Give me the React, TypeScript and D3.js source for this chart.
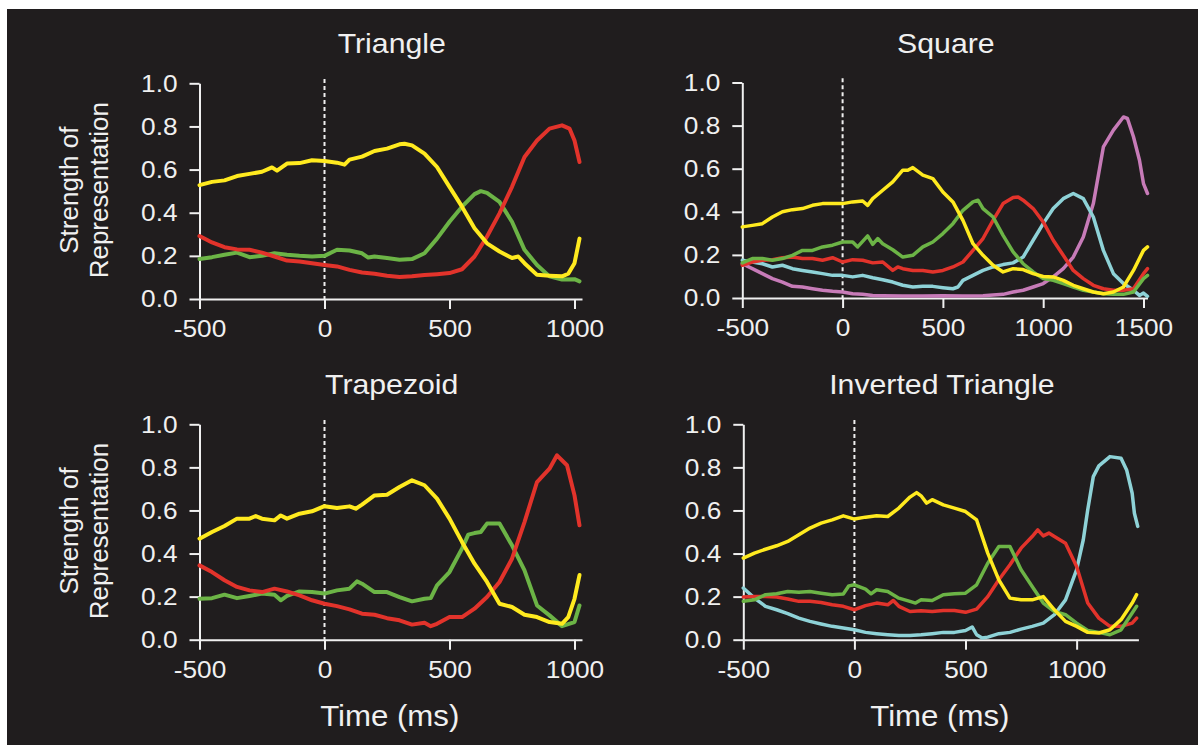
import React, { useEffect, useRef } from "react";
import * as d3 from "d3";

const width = 1198;
const height = 745;

const bg = "#201d1e";
const fg = "#f0f0f0";
const font = "'Liberation Sans', Arial, Helvetica, sans-serif";

const colors = {
  yellow: "#ffea1f",
  red: "#e2332b",
  green: "#6cb446",
  cyan: "#8ed2d7",
  purple: "#c77bb8",
};

const yTicks = [0, 0.2, 0.4, 0.6, 0.8, 1.0];
const xTicksShort = [-500, 0, 500, 1000];
const xTicksLong = [-500, 0, 500, 1000, 1500];
const titles = ["Triangle", "Square", "Trapezoid", "Inverted Triangle"];

// [time in ms, strength]
const triYellow = [
  [-500, 0.528], [-450, 0.543], [-400, 0.55], [-350, 0.57], [-300, 0.58], [-250, 0.59],
  [-210, 0.61], [-190, 0.595], [-150, 0.628], [-100, 0.63], [-50, 0.643], [0, 0.64],
  [50, 0.632], [80, 0.623], [100, 0.646], [150, 0.66], [200, 0.686], [250, 0.697],
  [300, 0.717], [320, 0.72], [350, 0.712], [400, 0.674], [450, 0.612], [500, 0.52],
  [550, 0.428], [600, 0.328], [650, 0.258], [700, 0.22], [750, 0.19], [775, 0.197],
  [800, 0.166], [850, 0.112], [900, 0.108], [950, 0.105], [975, 0.117], [1000, 0.166],
  [1020, 0.28],
];
const triRed = [
  [-500, 0.292], [-450, 0.262], [-400, 0.24], [-350, 0.23], [-300, 0.228], [-250, 0.215],
  [-200, 0.197], [-150, 0.178], [-100, 0.174], [-50, 0.166], [0, 0.158], [50, 0.151],
  [100, 0.135], [150, 0.123], [200, 0.117], [250, 0.108], [300, 0.102], [350, 0.105],
  [400, 0.111], [450, 0.115], [500, 0.12], [550, 0.138], [600, 0.197], [650, 0.29],
  [700, 0.397], [750, 0.52], [800, 0.658], [850, 0.735], [900, 0.79], [950, 0.805],
  [980, 0.79], [1000, 0.735], [1020, 0.635],
];
const triGreen = [
  [-500, 0.185], [-450, 0.194], [-400, 0.205], [-350, 0.215], [-300, 0.194], [-250, 0.2],
  [-200, 0.212], [-150, 0.205], [-100, 0.2], [-50, 0.197], [0, 0.2], [50, 0.228],
  [100, 0.225], [150, 0.212], [175, 0.192], [200, 0.197], [250, 0.19], [300, 0.182],
  [350, 0.185], [400, 0.212], [450, 0.28], [500, 0.358], [550, 0.428], [600, 0.486],
  [625, 0.5], [650, 0.492], [700, 0.45], [750, 0.358], [800, 0.228], [850, 0.158],
  [900, 0.105], [950, 0.09], [1000, 0.092], [1020, 0.082],
];

const sqYellow = [
  [-500, 0.33], [-450, 0.337], [-400, 0.345], [-350, 0.376], [-300, 0.4], [-250, 0.41],
  [-200, 0.415], [-150, 0.43], [-100, 0.438], [-50, 0.438], [0, 0.438], [50, 0.446],
  [100, 0.45], [125, 0.43], [150, 0.461], [200, 0.5], [250, 0.539], [300, 0.593],
  [325, 0.593], [350, 0.605], [400, 0.57], [450, 0.554], [500, 0.492], [550, 0.446],
  [600, 0.36], [650, 0.252], [700, 0.198], [750, 0.152], [800, 0.121], [850, 0.136],
  [900, 0.132], [950, 0.113], [1000, 0.1], [1050, 0.098], [1100, 0.082], [1150, 0.059],
  [1200, 0.043], [1250, 0.028], [1300, 0.02], [1350, 0.028], [1400, 0.051], [1450, 0.128],
  [1500, 0.221], [1520, 0.237],
];
const sqGreen = [
  [-500, 0.163], [-450, 0.183], [-400, 0.183], [-350, 0.175], [-300, 0.183], [-250, 0.198],
  [-200, 0.221], [-150, 0.221], [-100, 0.237], [-50, 0.245], [0, 0.26], [50, 0.26],
  [75, 0.237], [125, 0.288], [150, 0.249], [175, 0.276], [200, 0.252], [250, 0.224],
  [300, 0.19], [350, 0.198], [400, 0.237], [450, 0.26], [500, 0.299], [550, 0.345],
  [600, 0.407], [650, 0.446], [675, 0.454], [700, 0.415], [750, 0.376], [800, 0.291],
  [850, 0.214], [900, 0.159], [950, 0.121], [1000, 0.09], [1050, 0.082], [1100, 0.067],
  [1150, 0.051], [1200, 0.036], [1250, 0.028], [1300, 0.02], [1350, 0.017], [1400, 0.017],
  [1450, 0.028], [1500, 0.09], [1520, 0.105],
];
const sqRed = [
  [-500, 0.152], [-450, 0.167], [-400, 0.175], [-350, 0.178], [-300, 0.187], [-250, 0.19],
  [-200, 0.183], [-150, 0.183], [-100, 0.175], [-50, 0.187], [0, 0.167], [50, 0.178],
  [100, 0.175], [150, 0.163], [200, 0.167], [250, 0.128], [275, 0.144], [300, 0.136],
  [350, 0.128], [400, 0.128], [450, 0.121], [500, 0.128], [550, 0.144], [600, 0.167],
  [650, 0.221], [700, 0.276], [750, 0.36], [800, 0.438], [850, 0.466], [875, 0.469],
  [900, 0.454], [950, 0.415], [1000, 0.353], [1050, 0.268], [1100, 0.198], [1150, 0.128],
  [1200, 0.09], [1250, 0.059], [1300, 0.043], [1350, 0.036], [1400, 0.036], [1450, 0.043],
  [1500, 0.113], [1520, 0.136],
];
const sqCyan = [
  [-500, 0.175], [-450, 0.167], [-400, 0.159], [-350, 0.144], [-300, 0.152], [-250, 0.136],
  [-200, 0.128], [-150, 0.121], [-100, 0.113], [-50, 0.105], [0, 0.105], [50, 0.098],
  [100, 0.105], [150, 0.094], [200, 0.085], [250, 0.074], [300, 0.059], [350, 0.051],
  [400, 0.054], [450, 0.054], [500, 0.048], [550, 0.043], [575, 0.051], [600, 0.082],
  [650, 0.105], [700, 0.128], [750, 0.144], [800, 0.155], [850, 0.163], [900, 0.19],
  [950, 0.268], [1000, 0.345], [1050, 0.415], [1100, 0.461], [1150, 0.485], [1200, 0.461],
  [1250, 0.376], [1300, 0.221], [1350, 0.113], [1400, 0.067], [1450, 0.036], [1480, 0.012],
  [1500, 0.023], [1520, 0.008],
];
const sqPurple = [
  [-500, 0.159], [-450, 0.136], [-400, 0.113], [-350, 0.09], [-300, 0.074], [-250, 0.054],
  [-200, 0.051], [-150, 0.043], [-100, 0.036], [-50, 0.031], [0, 0.028], [50, 0.02],
  [100, 0.017], [150, 0.012], [200, 0.011], [300, 0.009], [400, 0.009], [500, 0.011],
  [600, 0.009], [700, 0.011], [800, 0.017], [850, 0.028], [900, 0.036], [950, 0.051],
  [1000, 0.067], [1050, 0.098], [1100, 0.136], [1150, 0.19], [1200, 0.283], [1250, 0.438],
  [1300, 0.701], [1350, 0.779], [1400, 0.84], [1420, 0.833], [1450, 0.748], [1480, 0.639],
  [1500, 0.531], [1520, 0.485],
];

const trapYellow = [
  [-500, 0.469], [-450, 0.5], [-400, 0.528], [-350, 0.562], [-300, 0.562], [-275, 0.574],
  [-250, 0.562], [-200, 0.554], [-175, 0.577], [-150, 0.562], [-100, 0.585], [-50, 0.596],
  [0, 0.62], [50, 0.611], [100, 0.619], [125, 0.608], [150, 0.627], [200, 0.67],
  [250, 0.673], [300, 0.709], [350, 0.74], [400, 0.717], [450, 0.655], [500, 0.562],
  [550, 0.454], [600, 0.353], [650, 0.268], [700, 0.167], [750, 0.152], [800, 0.116],
  [850, 0.105], [900, 0.082], [950, 0.074], [975, 0.105], [1000, 0.19], [1020, 0.3],
];
const trapRed = [
  [-500, 0.345], [-450, 0.314], [-400, 0.276], [-350, 0.245], [-300, 0.229], [-250, 0.221],
  [-200, 0.237], [-150, 0.224], [-100, 0.206], [-50, 0.183], [0, 0.167], [50, 0.156],
  [100, 0.141], [150, 0.121], [200, 0.116], [250, 0.1], [300, 0.09], [350, 0.07],
  [400, 0.079], [425, 0.063], [450, 0.074], [500, 0.105], [550, 0.105], [600, 0.144],
  [650, 0.198], [700, 0.268], [750, 0.376], [800, 0.546], [850, 0.732], [900, 0.794],
  [930, 0.856], [970, 0.81], [1000, 0.67], [1020, 0.531],
];
const trapGreen = [
  [-500, 0.19], [-450, 0.193], [-400, 0.209], [-350, 0.193], [-300, 0.203], [-250, 0.214],
  [-200, 0.209], [-175, 0.183], [-150, 0.203], [-100, 0.224], [-50, 0.221], [0, 0.214],
  [50, 0.229], [100, 0.237], [130, 0.271], [150, 0.26], [200, 0.221], [250, 0.221],
  [300, 0.198], [350, 0.178], [400, 0.19], [425, 0.193], [450, 0.252], [500, 0.314],
  [550, 0.423], [575, 0.488], [600, 0.495], [625, 0.5], [650, 0.539], [700, 0.539],
  [750, 0.438], [800, 0.322], [850, 0.159], [900, 0.113], [950, 0.063], [1000, 0.082],
  [1020, 0.159],
];

const invYellow = [
  [-500, 0.379], [-450, 0.402], [-400, 0.42], [-350, 0.436], [-300, 0.456], [-250, 0.487],
  [-200, 0.518], [-150, 0.541], [-100, 0.556], [-50, 0.575], [0, 0.56], [50, 0.569],
  [100, 0.575], [150, 0.572], [200, 0.611], [250, 0.662], [280, 0.683], [300, 0.668],
  [325, 0.634], [350, 0.65], [400, 0.626], [450, 0.611], [500, 0.595], [550, 0.556],
  [600, 0.402], [650, 0.278], [700, 0.193], [750, 0.185], [800, 0.185], [850, 0.2],
  [900, 0.139], [950, 0.085], [1000, 0.062], [1050, 0.034], [1100, 0.031], [1150, 0.046],
  [1200, 0.093], [1250, 0.17], [1270, 0.209],
];
const invRed = [
  [-500, 0.198], [-450, 0.2], [-400, 0.2], [-350, 0.198], [-300, 0.189], [-250, 0.178],
  [-200, 0.178], [-150, 0.173], [-100, 0.162], [-50, 0.155], [0, 0.139], [50, 0.158],
  [100, 0.17], [150, 0.162], [175, 0.182], [200, 0.155], [250, 0.131], [300, 0.134],
  [350, 0.131], [400, 0.136], [450, 0.136], [500, 0.127], [550, 0.142], [600, 0.2],
  [650, 0.278], [700, 0.348], [750, 0.425], [800, 0.479], [825, 0.51], [850, 0.482],
  [875, 0.495], [900, 0.479], [950, 0.448], [1000, 0.34], [1050, 0.17], [1100, 0.1],
  [1150, 0.062], [1200, 0.062], [1250, 0.077], [1270, 0.1],
];
const invGreen = [
  [-500, 0.178], [-450, 0.185], [-400, 0.209], [-350, 0.213], [-300, 0.224], [-250, 0.22],
  [-200, 0.224], [-150, 0.216], [-100, 0.209], [-50, 0.212], [-25, 0.25], [0, 0.255],
  [50, 0.235], [75, 0.213], [100, 0.232], [150, 0.224], [200, 0.193], [250, 0.178],
  [275, 0.17], [300, 0.185], [350, 0.182], [400, 0.209], [450, 0.213], [500, 0.216],
  [550, 0.255], [600, 0.355], [650, 0.433], [700, 0.433], [750, 0.325], [800, 0.247],
  [850, 0.17], [900, 0.131], [950, 0.116], [1000, 0.077], [1050, 0.043], [1100, 0.034],
  [1150, 0.023], [1200, 0.046], [1250, 0.124], [1270, 0.155],
];
const invCyan = [
  [-500, 0.24], [-450, 0.193], [-400, 0.155], [-350, 0.139], [-300, 0.121], [-250, 0.1],
  [-200, 0.085], [-150, 0.073], [-100, 0.062], [-50, 0.054], [0, 0.046], [50, 0.034],
  [100, 0.028], [150, 0.023], [200, 0.019], [250, 0.02], [300, 0.023], [350, 0.028],
  [400, 0.034], [450, 0.034], [500, 0.043], [530, 0.059], [550, 0.023], [575, 0.008],
  [600, 0.012], [650, 0.028], [700, 0.034], [750, 0.049], [800, 0.062], [850, 0.077],
  [900, 0.116], [950, 0.185], [1000, 0.325], [1030, 0.464], [1050, 0.603], [1075, 0.757],
  [1100, 0.807], [1150, 0.85], [1200, 0.842], [1225, 0.788], [1250, 0.68], [1260, 0.587],
  [1275, 0.526],
];

const panels = [
  {
    title: titles[0], xMax: 1030, ticks: xTicksShort,
    left: 199.5, right: 582, top: 83.3, bottom: 299, lw: 4, yLabel: true, xLabel: false,
    series: [[triGreen, colors.green], [triRed, colors.red], [triYellow, colors.yellow]],
  },
  {
    title: titles[1], xMax: 1520, ticks: xTicksLong,
    left: 742.3, right: 1147.5, top: 82.5, bottom: 298, lw: 3.5, yLabel: false, xLabel: false,
    series: [[sqPurple, colors.purple], [sqCyan, colors.cyan], [sqRed, colors.red], [sqGreen, colors.green], [sqYellow, colors.yellow]],
  },
  {
    title: titles[2], xMax: 1030, ticks: xTicksShort,
    left: 199.5, right: 582, top: 424.3, bottom: 639.7, lw: 4, yLabel: true, xLabel: true,
    series: [[trapGreen, colors.green], [trapRed, colors.red], [trapYellow, colors.yellow]],
  },
  {
    title: titles[3], xMax: 1278, ticks: xTicksShort,
    left: 743.3, right: 1138.4, top: 424.3, bottom: 639.7, lw: 3.5, yLabel: false, xLabel: true,
    series: [[invCyan, colors.cyan], [invRed, colors.red], [invGreen, colors.green], [invYellow, colors.yellow]],
  },
];

// the figure's lettering is a little wider than Liberation Sans
function widen(sel, k) {
  sel.each(function () {
    const len = this.getComputedTextLength();
    d3.select(this).attr("textLength", len * k).attr("lengthAdjust", "spacingAndGlyphs");
  });
}

function drawPanel(svg, p) {
  const x = d3.scaleLinear().domain([-500, p.xMax]).range([p.left, p.right]);
  const y = d3.scaleLinear().domain([0, 1]).range([p.bottom, p.top]);
  const g = svg.append("g");

  const yAxis = g
    .append("g")
    .attr("transform", `translate(${p.left},0)`)
    .call(
      d3.axisLeft(y).tickValues(yTicks).tickFormat(d3.format(".1f"))
        .tickSize(10).tickSizeOuter(0).tickPadding(12)
    );
  const xAxis = g
    .append("g")
    .attr("transform", `translate(0,${p.bottom})`)
    .call(
      d3.axisBottom(x).tickValues(p.ticks).tickFormat((d) => String(d))
        .tickSize(10).tickSizeOuter(0).tickPadding(11)
    );

  [yAxis, xAxis].forEach((a) => {
    a.attr("font-family", font).attr("font-size", 24.5);
    a.selectAll("path, line").attr("stroke", fg).attr("stroke-width", 2);
    a.selectAll("text").attr("fill", fg).call(widen, 1.07);
  });

  // stimulus onset
  g.append("line")
    .attr("x1", x(0)).attr("x2", x(0))
    .attr("y1", y(1.02)).attr("y2", y(0))
    .attr("stroke", fg).attr("stroke-width", 2)
    .attr("stroke-dasharray", "4 3");

  const line = d3.line().x((d) => x(d[0])).y((d) => y(d[1]));
  p.series.forEach(([data, color]) => {
    g.append("path")
      .attr("d", line(data))
      .attr("fill", "none")
      .attr("stroke", color)
      .attr("stroke-width", p.lw)
      .attr("stroke-linejoin", "round")
      .attr("stroke-linecap", "round");
  });

  const cx = (p.left + p.right) / 2;
  g.append("text")
    .attr("x", cx + 1).attr("y", p.top - 30)
    .attr("text-anchor", "middle")
    .attr("font-family", font).attr("font-size", 28)
    .attr("fill", fg)
    .text(p.title)
    .call(widen, 1.08);

  if (p.yLabel) {
    const cy = (p.top + p.bottom) / 2 - 1;
    [["Strength of", 78], ["Representation", 108]].forEach(([t, bx]) => {
      g.append("text")
        .attr("transform", `translate(${bx},${cy}) rotate(-90)`)
        .attr("text-anchor", "middle")
        .attr("font-family", font).attr("font-size", 25)
        .attr("fill", fg)
        .text(t)
        .call(widen, 1.04);
    });
  }

  if (p.xLabel) {
    g.append("text")
      .attr("x", cx - 1).attr("y", p.bottom + 86)
      .attr("text-anchor", "middle")
      .attr("font-family", font).attr("font-size", 30)
      .attr("fill", fg)
      .text("Time (ms)")
      .call(widen, 1.04);
  }
}

export default function App() {
  const ref = useRef(null);

  useEffect(() => {
    const svg = d3.select(ref.current);
    svg.selectAll("*").remove();
    svg.append("rect").attr("width", width).attr("height", height).attr("fill", "#ffffff");
    svg.append("rect").attr("x", 7).attr("y", 9)
      .attr("width", width - 7).attr("height", height - 9).attr("fill", bg);
    panels.forEach((p) => drawPanel(svg, p));
  }, []);

  return (
    <svg
      ref={ref}
      width={width}
      height={height}
      style={{ position: "absolute", left: 0, top: 0 }}
    />
  );
}
